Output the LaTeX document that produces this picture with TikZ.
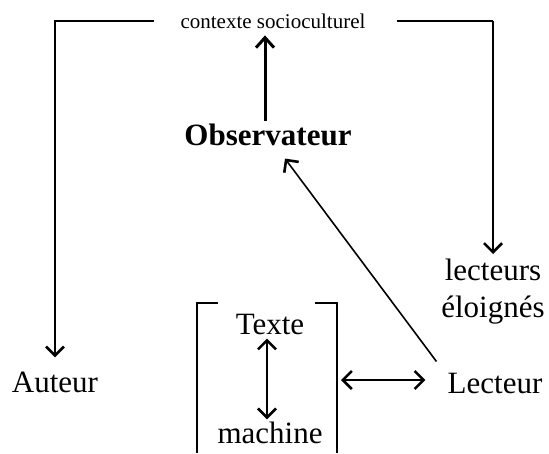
\documentclass[tikz,border=0pt]{standalone}
\usepackage{fontspec}
\setmainfont{Liberation Serif}
\usetikzlibrary{arrows.meta,calc}
\tikzset{
	lbl/.style={inner sep=0pt, font=\fontsize{31}{37}\selectfont},
	smalllbl/.style={inner sep=0pt, font=\fontsize{21}{25}\selectfont},
	barb/.tip={Straight Barb[length=9pt,width=18pt,line width=2.6pt]},
	conn/.style={line width=1.8pt, -barb},
	dconn/.style={line width=1.8pt, barb-barb}
}

\begin{document}
\begin{tikzpicture}[x=1pt, y=-1pt]
			\useasboundingbox (0,0) rectangle (549,453);
			\node[smalllbl, anchor=base] (ctx) at (273,28) {contexte socioculturel};
			\node[lbl, anchor=base, font=\fontsize{31}{37}\selectfont\bfseries] (obs) at (268,145) {Observateur};
			\node[lbl, anchor=base] (aut) at (55,392) {Auteur};
			\node[lbl, anchor=base] (lec) at (495,393) {Lecteur};
			\node[lbl, anchor=north, align=center] (loin) at (493,259) {lecteurs\\éloignés};
			\node[lbl, anchor=base] (txt) at (270,334) {Texte};
			\node[lbl, anchor=base] (mach) at (270,443) {machine};
			\coordinate (brk) at (337,380);
			\coordinate (ctxr) at ([xshift=31pt]ctx.east);
			\coordinate (corner) at (ctxr -| loin.north);
			% cadre autour de texte / machine
			\draw [line width=1.8pt] (218,303) -- (197,303) -- (197,453);
			\draw [line width=1.8pt] (315,303) -- (337,303) -- (337,453);
			% liaisons
			\draw [conn] ([xshift=-26pt]ctx.west) -| ([yshift=14pt]aut.north);
			\draw [line width=2.6pt] (ctxr) -- (corner);
			\draw [conn, line width=1.4pt] (corner) -- ([yshift=5pt]loin.north);
			\draw [line width=3pt, -{Straight Barb[length=10pt,width=18pt,line width=3pt]}, shorten <=2pt, shorten >=7pt] ([xshift=-3pt]obs.north) -- ([xshift=-3pt]obs.north |- ctx.south);
			\draw [conn, line width=1.6pt] ([xshift=-11pt,yshift=11pt]lec.north west) -- ([xshift=17pt,yshift=-13pt]obs.south);
			\draw [dconn, shorten <=4pt, shorten >=2pt] ([xshift=-3pt]txt.south) -- ([xshift=-3pt]txt.south |- mach.north);
			\draw [dconn, shorten <=4pt, shorten >=22pt] (brk) -- (brk -| lec.west);
	\end{tikzpicture}
\end{document}
